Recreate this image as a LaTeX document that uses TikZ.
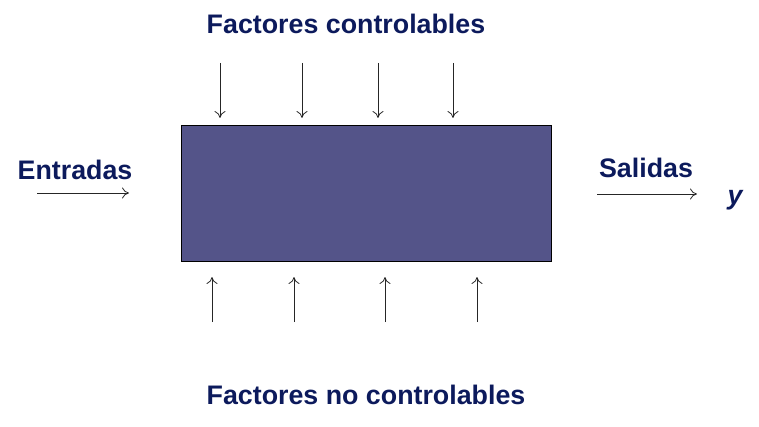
\documentclass[tikz,border=0pt]{standalone}
\usepackage{fontspec}
\setmainfont{Liberation Sans}
\usetikzlibrary{arrows.meta}
\begin{document}
\begin{tikzpicture}[x=1pt,y=-1pt,
  lbl/.style={font=\bfseries\fontsize{26.8}{30}\selectfont, text=labelblue, inner sep=0pt},
  arr/.style={draw=black!85, line width=0.8pt, -{To[length=7pt,width=11pt]}},
  ]
\definecolor{labelblue}{HTML}{0C1A5C}
\definecolor{boxfill}{HTML}{545489}
\useasboundingbox (0,0) rectangle (759,427);
\node[draw=black, line width=0.8pt, fill=boxfill, minimum width=370pt, minimum height=136pt, anchor=north west, inner sep=0pt] (box) at (181,125) {};
\node[lbl] (fc) at (346,24) {Factores controlables};
\node[lbl] (fnc) at (366,395) {Factores no controlables};
\node[lbl] (ent) at (75,170) {Entradas};
\node[lbl] (sal) at (646,168) {Salidas};
\node[lbl, font=\bfseries\itshape\fontsize{26.8}{30}\selectfont] (y) at (735,200) {y};
% top arrows
\foreach \i/\x in {1/220,2/302,3/378,4/453}{
  \coordinate (t\i) at (\x,63);
  \coordinate (te\i) at (\x,118);
  \draw[arr] (t\i) -- (te\i);
}
% bottom arrows
\foreach \i/\x in {1/212,2/294,3/385,4/477}{
  \coordinate (b\i) at (\x,322);
  \coordinate (be\i) at (\x,277);
  \draw[arr] (b\i) -- (be\i);
}
\coordinate (e1) at (37,193);
\coordinate (e2) at (129,193);
\draw[arr] (e1) -- (e2);
\coordinate (s1) at (597,194);
\coordinate (s2) at (697,194);
\draw[arr] (s1) -- (s2);
\end{tikzpicture}
\end{document}
